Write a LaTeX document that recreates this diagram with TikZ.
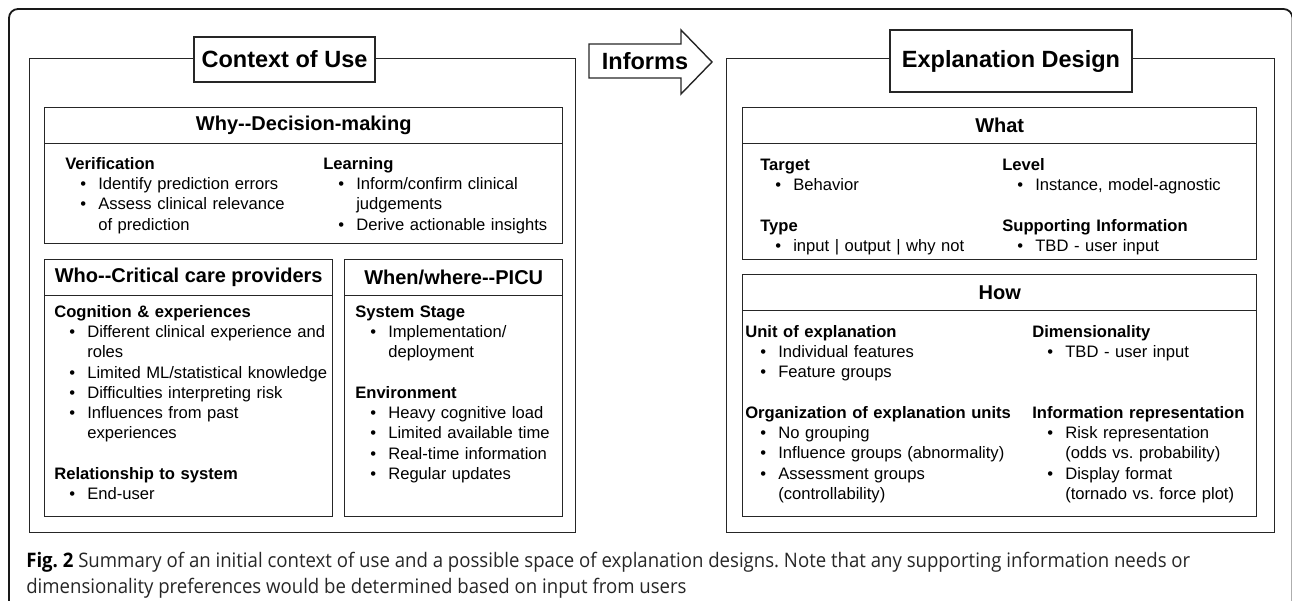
\documentclass[tikz,border=0pt]{standalone}
\usepackage{fontspec}
\setmainfont{Liberation Sans}
\newfontfamily\capfont[FakeStretch=0.93]{Open Sans}
\usepackage{tikz}
\usetikzlibrary{positioning}
\frenchspacing

% two plain hyphens, kept apart so they do not turn into a dash
\newcommand{\dd}{\mbox{-}\mbox{-}}
% bullet line and its continuation
\newcommand{\itm}{\hspace*{15pt}\makebox[18pt][l]{\textbullet}}
\newcommand{\cnt}{\hspace*{33pt}}

\begin{document}
\begin{tikzpicture}[x=1pt,y=-1pt,semithick]
	\tikzstyle{panel}=[draw=black!85, line width=1.4pt, inner sep=0pt, anchor=north west]
	\tikzstyle{head}=[draw=black!85, line width=1.4pt, inner sep=0pt, anchor=north, minimum height=36pt, font=\fontsize{20}{24}\selectfont\bfseries]
	\tikzstyle{title}=[draw=black!85, line width=1.4pt, fill=white, inner sep=0pt, font=\fontsize{23.5}{28}\selectfont\bfseries]
	\tikzstyle{col}=[anchor=north west, inner sep=0pt, align=left, text width=300pt, font=\fontsize{16.6}{20.25}\selectfont]
	\tikzstyle{capt}=[anchor=base west, inner sep=0pt, text=black!85, font=\capfont\fontsize{20}{26}\selectfont]

	\useasboundingbox (0,0) rectangle (1292,601);

	% page frame, open at the bottom
	\draw[line width=1.8pt, black!90, rounded corners=9pt] (9,606) -- (9,9) -- (1292.5,9) -- (1292.5,606);

	% context of use
	\node[panel, minimum width=546pt, minimum height=474pt] (ctx) at (29,58) {};
	\node[title, minimum width=181pt, minimum height=45pt] (ctxT) at (284.5,59.5) {Context of Use};

	\node[panel, minimum width=518pt, minimum height=136pt] (why) at (44,107) {};
	\node[head, minimum width=518pt] (whyH) at (why.north) {Why\dd Decision-making};
	\node[col] (whyL) at (65,154.8) {\strut\textbf{Verification}\\
		\itm Identify prediction errors\\
		\itm Assess clinical relevance\\
		\cnt of prediction};
	\node[col] (whyR) at (323,154.8) {\strut\textbf{Learning}\\
		\itm Inform/confirm clinical\\
		\cnt judgements\\
		\itm Derive actionable insights};

	\node[panel, minimum width=288pt, minimum height=257pt] (who) at (44,259) {};
	\node[head, minimum width=288pt] (whoH) at (who.north) {Who\dd Critical care providers};
	\node[col] (whoC) at (54,302.8) {\strut\textbf{Cognition \& experiences}\\
		\itm Different clinical experience and\\
		\cnt roles\\
		\itm Limited ML/statistical knowledge\\
		\itm Difficulties interpreting risk\\
		\itm Influences from past\\
		\cnt experiences\\
		\mbox{}\\
		\textbf{Relationship to system}\\
		\itm End-user};

	\node[panel, minimum width=218pt, minimum height=257pt] (when) at (344,259) {};
	\node[head, minimum width=218pt] (whenH) at (when.north) {When/where\dd PICU};
	\node[col] (whenC) at (355,302.8) {\strut\textbf{System Stage}\\
		\itm Implementation/\\
		\cnt deployment\\
		\mbox{}\\
		\textbf{Environment}\\
		\itm Heavy cognitive load\\
		\itm Limited available time\\
		\itm Real-time information\\
		\itm Regular updates};

	% arrow between the two halves
	\draw[line width=1.4pt, black!85, line join=miter] (589,44) -- (681,44) -- (681,30) -- (712,62) -- (681,94) -- (681,78) -- (589,78) -- cycle;
	\node[font=\fontsize{23.5}{28}\selectfont\bfseries] (inf) at (645,61) {Informs};

	% explanation design
	\node[panel, minimum width=548pt, minimum height=474pt] (expl) at (726,58) {};
	\node[title, minimum width=242pt, minimum height=62pt] (explT) at (1011,61) {Explanation Design};

	\node[panel, minimum width=514pt, minimum height=152pt] (what) at (742,107) {};
	\node[head, minimum width=514pt] (whatH) at (what.north) {What};
	\node[col] (whatL) at (760,155.8) {\strut\textbf{Target}\\
		\itm Behavior\\
		\mbox{}\\
		\textbf{Type}\\
		\itm input | output | why not};
	\node[col] (whatR) at (1002,155.8) {\strut\textbf{Level}\\
		\itm Instance, model-agnostic\\
		\mbox{}\\
		\textbf{Supporting Information}\\
		\itm TBD - user input};

	\node[panel, minimum width=514pt, minimum height=242pt] (how) at (742,274) {};
	\node[head, minimum width=514pt] (howH) at (how.north) {How};
	\node[col] (howL) at (745,322.8) {\strut\textbf{Unit of explanation}\\
		\itm Individual features\\
		\itm Feature groups\\
		\mbox{}\\
		\textbf{Organization of explanation units}\\
		\itm No grouping\\
		\itm Influence groups (abnormality)\\
		\itm Assessment groups\\
		\cnt (controllability)};
	\node[col] (howR) at (1032,322.8) {\strut\textbf{Dimensionality}\\
		\itm TBD - user input\\
		\mbox{}\\
		\mbox{}\\
		\textbf{Information representation}\\
		\itm Risk representation\\
		\cnt (odds vs. probability)\\
		\itm Display format\\
		\cnt (tornado vs. force plot)};

	% caption
	\node[capt] (cap1) at (26,567) {\textcolor{black}{\textbf{Fig.~2}} Summary of an initial context of use and a possible space of explanation designs. Note that any supporting information needs or};
	\node[capt] (cap2) at (26,593) {dimensionality preferences would be determined based on input from users};
\end{tikzpicture}
\end{document}
